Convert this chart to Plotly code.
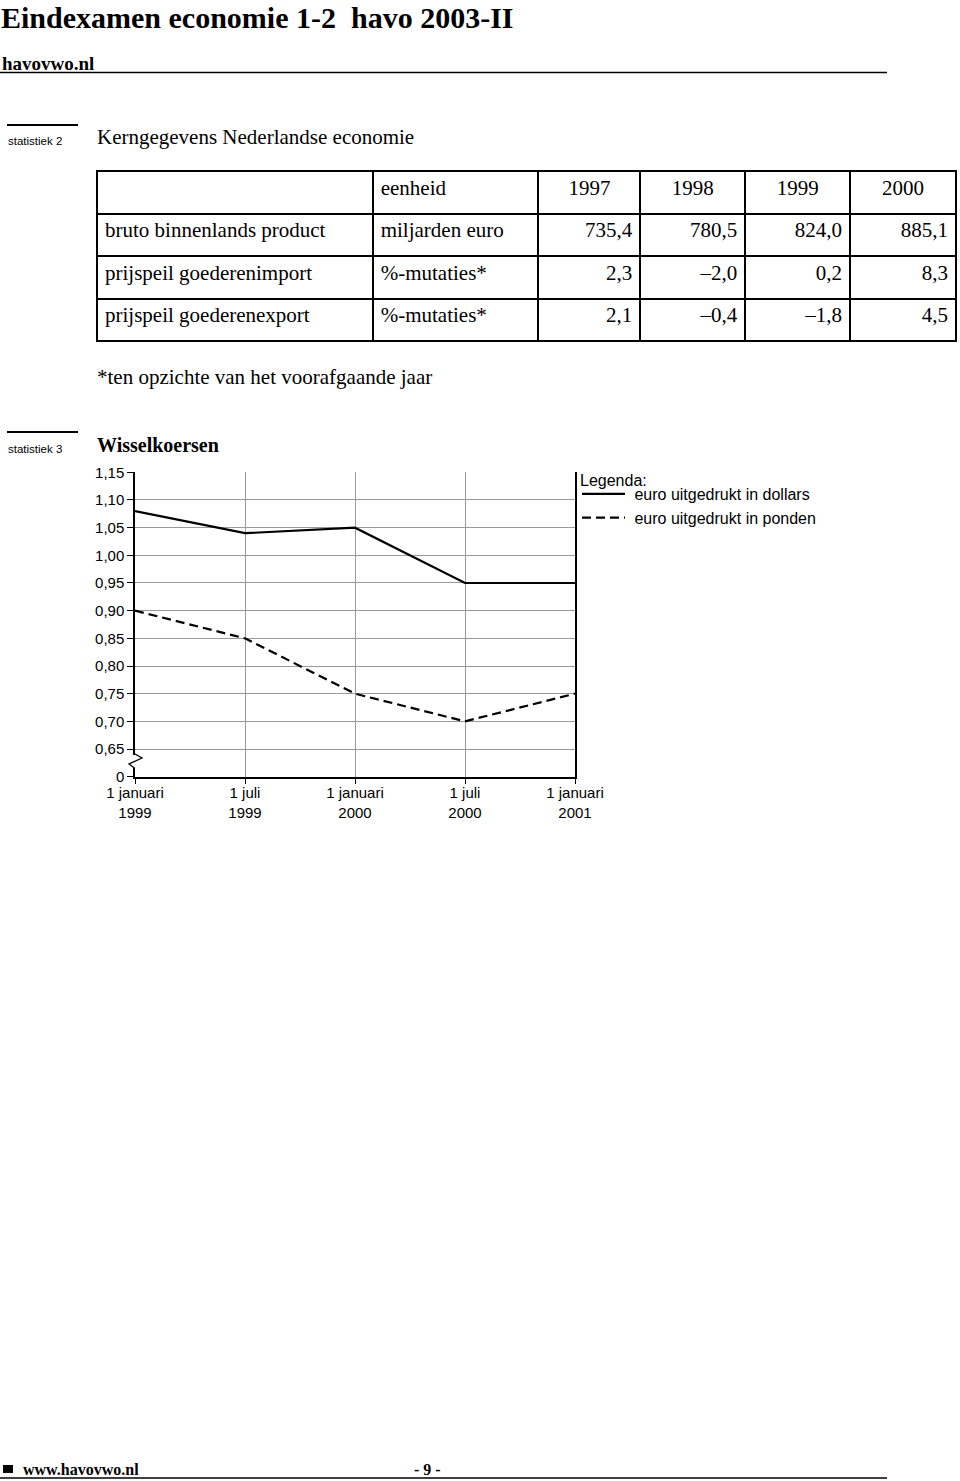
import plotly.graph_objects as go

W, H = 960, 1481

# ---------------- data ----------------
dates = ["1 januari<br>1999", "1 juli<br>1999", "1 januari<br>2000", "1 juli<br>2000", "1 januari<br>2001"]
euro_dollar = [1.08, 1.04, 1.05, 0.95, 0.95]
euro_pond = [0.90, 0.85, 0.75, 0.70, 0.75]
y_ticks = [0.60, 0.65, 0.70, 0.75, 0.80, 0.85, 0.90, 0.95, 1.00, 1.05, 1.10, 1.15]
y_labels = ["0", "0,65", "0,70", "0,75", "0,80", "0,85", "0,90", "0,95", "1,00", "1,05", "1,10", "1,15"]

table_header = ["", "eenheid", "1997", "1998", "1999", "2000"]
indicators = ["bruto binnenlands product", "prijspeil goederenimport", "prijspeil goederenexport"]
units = ["miljarden euro", "%-mutaties*", "%-mutaties*"]
v1997 = ["735,4", "2,3", "2,1"]
v1998 = ["780,5", "–2,0", "–0,4"]
v1999 = ["824,0", "0,2", "–1,8"]
v2000 = ["885,1", "8,3", "4,5"]


def px(x):
    return x / W


def py(y):
    return 1 - y / H


SERIF = "Liberation Serif, Times New Roman, serif"
SANS = "Liberation Sans, Arial, sans-serif"

fig = go.Figure()

fig.add_trace(go.Scatter(
    x=dates, y=euro_dollar, mode="lines", name="\u00a0euro uitgedrukt in dollars",
    line=dict(color="black", width=2.2), cliponaxis=False))
fig.add_trace(go.Scatter(
    x=dates, y=euro_pond, mode="lines", name="\u00a0euro uitgedrukt in ponden",
    line=dict(color="black", width=2.2, dash="9px,5px"), cliponaxis=False))

fig.add_trace(go.Table(
    domain=dict(x=[px(97), px(957)], y=[py(343), py(171)]),
    columnwidth=[276, 166, 102, 105, 105, 106],
    header=dict(values=table_header, height=42.5,
                align=["left", "left", "center", "center", "center", "center"],
                font=dict(family=SERIF, size=21, color="black"),
                line=dict(color="black", width=2), fill=dict(color="white")),
    cells=dict(values=[indicators, units, v1997, v1998, v1999, v2000], height=42.5,
               align=["left", "left", "right", "right", "right", "right"],
               font=dict(family=SERIF, size=21, color="black"),
               line=dict(color="black", width=2), fill=dict(color="white")),
))

ann = []


def text(x, y, s, size, family=SERIF, xanchor="left", yanchor="middle"):
    ann.append(dict(x=px(x), y=py(y), xref="paper", yref="paper", text=s, showarrow=False,
                    xanchor=xanchor, yanchor=yanchor, borderpad=0,
                    font=dict(family=family, size=size, color="black")))


text(0, 0, "<b>Eindexamen economie 1-2 \u00a0havo 2003-II</b>", 30, yanchor="top")
text(1, 63, "<b>havovwo.nl</b>", 19)
text(7, 141, "statistiek 2", 11.5, SANS)
text(96, 137, "Kerngegevens Nederlandse economie", 21)
text(96, 377, "*ten opzichte van het voorafgaande jaar", 21)
text(7, 449, "statistiek 3", 11.5, SANS)
text(96, 445, "<b>Wisselkoersen</b>", 20)
text(579, 480, "Legenda:", 16, SANS)
text(22, 1469, "<b>www.havovwo.nl</b>", 16)
text(413, 1469, "<b>- 9 -</b>", 16)

shapes = []


def hline(x0, x1, y, w):
    shapes.append(dict(type="line", xref="paper", yref="paper", x0=px(x0), x1=px(x1), y0=py(y), y1=py(y),
                       line=dict(color="black", width=w)))


hline(0, 887, 72.5, 1.5)
hline(7, 78, 125, 2)
hline(7, 78, 432, 2)
hline(0, 887, 1478, 1.5)
shapes.append(dict(type="rect", xref="paper", yref="paper", x0=px(3), x1=px(13), y0=py(1473), y1=py(1465),
                   fillcolor="black", line=dict(width=0)))
# axis break
shapes.append(dict(type="rect", xref="paper", yref="paper", x0=px(132), x1=px(138), y0=py(768), y1=py(755),
                   fillcolor="white", line=dict(width=0), layer="above"))
zz = [(135, 754), (142, 758), (129, 764), (135, 768.5)]
path = "M" + " L".join(f"{px(a):.5f},{py(b):.5f}" for a, b in zz)
shapes.append(dict(type="path", xref="paper", yref="paper", path=path,
                   line=dict(color="black", width=1.3), layer="above"))

fig.update_layout(
    width=W, height=H, margin=dict(l=0, r=0, t=0, b=0, pad=0, autoexpand=False),
    paper_bgcolor="white", plot_bgcolor="white",
    annotations=ann, shapes=shapes,
    showlegend=True,
    legend=dict(x=px(577), y=py(477), xanchor="left", yanchor="top",
                font=dict(family=SANS, size=16, color="black"),
                bgcolor="rgba(0,0,0,0)", borderwidth=0, itemwidth=43, tracegroupgap=0),
    xaxis=dict(domain=[px(135), px(575)], type="category", range=[0, 4], automargin=False,
               showgrid=True, gridcolor="#9a9a9a", gridwidth=1,
               showline=True, linecolor="black", linewidth=1.5,
               ticks="outside", ticklen=6, tickcolor="black", tickwidth=1.3, ticklabelstandoff=-4,
               tickfont=dict(family=SANS, size=15, color="black"), zeroline=False),
    yaxis=dict(domain=[py(776.7), py(472.3)], range=[0.60, 1.15], automargin=False,
               tickvals=y_ticks, ticktext=y_labels,
               showgrid=True, gridcolor="#9a9a9a", gridwidth=1,
               showline=True, linecolor="black", linewidth=1.5, mirror=True,
               ticks="outside", ticklen=6, tickcolor="black", tickwidth=1.3,
               tickfont=dict(family=SANS, size=15, color="black"), zeroline=False),
)

fig.write_html("out.html")
